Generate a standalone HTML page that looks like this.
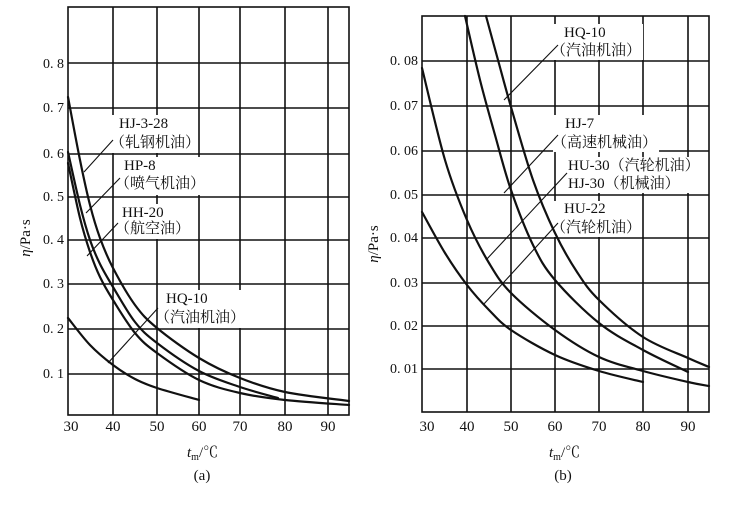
<!DOCTYPE html>
<html><head><meta charset="utf-8"><style>
html,body{margin:0;padding:0;background:#fff;}
svg{display:block;}
text{font-family:"Liberation Serif","Noto Serif CJK SC",serif;fill:#111;}
</style></head><body>
<svg id="s" width="731" height="507" viewBox="0 0 731 507" xmlns="http://www.w3.org/2000/svg">
<g stroke="#111" stroke-width="1.6" fill="none">
<rect x="68" y="7" width="281" height="408"/>
<path d="M113 7V415M157 7V415M199 7V415M240 7V415M285 7V415M328 7V415"/>
<path d="M68 63H349M68 108H349M68 154H349M68 197H349M68 240H349M68 284H349M68 329H349M68 374H349"/>
<rect x="422" y="16" width="287" height="396"/>
<path d="M467 16V412M511 16V412M555 16V412M599 16V412M643 16V412M688 16V412"/>
<path d="M422 61H709M422 106H709M422 151H709M422 195H709M422 238H709M422 283H709M422 326H709M422 369H709"/>
</g>
<g fill="#fff">
<rect x="112" y="115" width="84" height="38"/>
<rect x="114" y="157" width="88" height="38"/>
<rect x="114" y="204" width="62" height="35"/>
<rect x="158" y="290" width="92" height="38"/>
<rect x="553" y="24" width="90" height="36"/>
<rect x="553" y="115" width="106" height="37"/>
<rect x="560" y="157" width="134" height="36"/>
<rect x="553" y="201" width="86" height="36"/>
</g>
<g id="curves" stroke="#111" stroke-width="2.2" fill="none" stroke-linejoin="round" stroke-linecap="round"></g>
<g stroke="#111" stroke-width="1.1">
<line x1="113" y1="140" x2="84" y2="172"/>
<line x1="120" y1="178" x2="86" y2="213"/>
<line x1="118" y1="223" x2="87" y2="256"/>
<line x1="158" y1="308" x2="108" y2="363"/>
<line x1="558" y1="45" x2="504" y2="100"/>
<line x1="558" y1="135" x2="504" y2="193"/>
<line x1="567" y1="173" x2="486" y2="260"/>
<line x1="558" y1="223" x2="483" y2="305"/>
</g>
<g font-size="15">
<text x="119" y="128">HJ-3-28</text>
<text x="110" y="147">（轧钢机油）</text>
<text x="124" y="170">HP-8</text>
<text x="115" y="188">（喷气机油）</text>
<text x="122" y="217">HH-20</text>
<text x="115" y="233">（航空油）</text>
<text x="166" y="303">HQ-10</text>
<text x="155" y="322">（汽油机油）</text>
<text x="564" y="37">HQ-10</text>
<text x="551" y="55">（汽油机油）</text>
<text x="565" y="128">HJ-7</text>
<text x="552" y="147">（高速机械油）</text>
<text x="568" y="170">HU-30（汽轮机油）</text>
<text x="568" y="188">HJ-30（机械油）</text>
<text x="564" y="213">HU-22</text>
<text x="551" y="232">（汽轮机油）</text>
</g>
<g font-size="14" text-anchor="end">
<text x="64" y="68">0. 8</text><text x="64" y="112">0. 7</text><text x="64" y="158">0. 6</text><text x="64" y="201">0. 5</text>
<text x="64" y="244">0. 4</text><text x="64" y="288">0. 3</text><text x="64" y="333">0. 2</text><text x="64" y="378">0. 1</text>
<text x="418" y="65">0. 08</text><text x="418" y="110">0. 07</text><text x="418" y="155">0. 06</text><text x="418" y="199">0. 05</text>
<text x="418" y="242">0. 04</text><text x="418" y="287">0. 03</text><text x="418" y="330">0. 02</text><text x="418" y="373">0. 01</text>
</g>
<g font-size="15" text-anchor="middle">
<text x="71" y="431">30</text><text x="113" y="431">40</text><text x="157" y="431">50</text><text x="199" y="431">60</text>
<text x="240" y="431">70</text><text x="285" y="431">80</text><text x="328" y="431">90</text>
<text x="427" y="431">30</text><text x="467" y="431">40</text><text x="511" y="431">50</text><text x="555" y="431">60</text>
<text x="599" y="431">70</text><text x="643" y="431">80</text><text x="688" y="431">90</text>
<text x="202" y="480">(a)</text><text x="563" y="480">(b)</text>
</g>
<text x="187" y="457" font-size="15"><tspan font-style="italic">t</tspan><tspan font-size="10" dy="3">m</tspan><tspan dy="-3">/℃</tspan></text>
<text x="549" y="457" font-size="15"><tspan font-style="italic">t</tspan><tspan font-size="10" dy="3">m</tspan><tspan dy="-3">/℃</tspan></text>
<text transform="translate(30,238) rotate(-90)" font-size="15" text-anchor="middle"><tspan font-style="italic">η</tspan>/Pa·s</text>
<text transform="translate(378,244) rotate(-90)" font-size="15" text-anchor="middle"><tspan font-style="italic">η</tspan>/Pa·s</text>
</svg>
<script>
var series=[
[[68,97],[80,160],[90,205],[100,238],[113,268],[135,305],[157,328],[199,358],[240,378],[285,392],[349,401]],
[[68,152],[80,205],[90,240],[100,264],[113,287],[135,322],[157,343],[199,371],[240,387],[278,398]],
[[68,163],[80,218],[90,252],[100,277],[113,300],[135,333],[157,353],[199,380],[240,393],[285,400],[349,405]],
[[68,318],[90,345],[113,365],[135,379],[157,388],[199,400]],
[[422,212],[445,253],[467,285],[489,310],[511,330],[555,355],[599,371],[643,382]],
[[422,68],[445,160],[467,220],[489,263],[511,293],[555,330],[599,357],[643,371],[688,382],[709,386]],
[[465,16],[480,80],[495,135],[511,190],[533,245],[555,280],[599,323],[643,350],[688,372]],
[[486,16],[498,60],[511,107],[533,180],[555,233],[577,272],[599,300],[643,337],[688,358],[709,367]]
];
var g=document.getElementById('curves');
series.forEach(function(p){
 var d='M'+p[0][0]+' '+p[0][1];
 for(var i=0;i<p.length-1;i++){
  var p0=p[Math.max(i-1,0)],p1=p[i],p2=p[i+1],p3=p[Math.min(i+2,p.length-1)];
  var c1x=p1[0]+(p2[0]-p0[0])/6,c1y=p1[1]+(p2[1]-p0[1])/6;
  var c2x=p2[0]-(p3[0]-p1[0])/6,c2y=p2[1]-(p3[1]-p1[1])/6;
  d+=' C'+c1x+' '+c1y+','+c2x+' '+c2y+','+p2[0]+' '+p2[1];
 }
 var e=document.createElementNS('http://www.w3.org/2000/svg','path');
 e.setAttribute('d',d);g.appendChild(e);
});
</script>
</body></html>
